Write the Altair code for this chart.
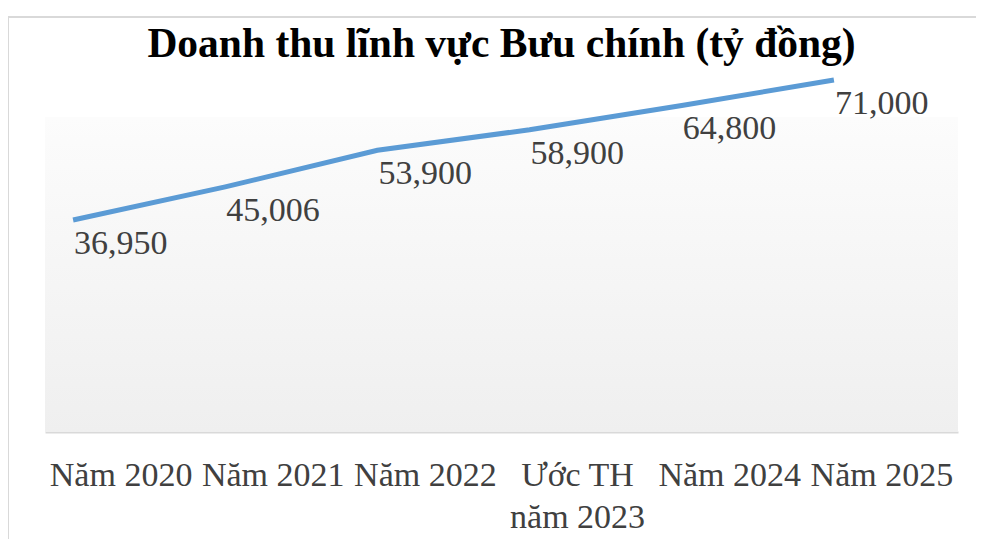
import altair as alt
import pandas as pd

# ---- data ----
categories = ["Năm 2020", "Năm 2021", "Năm 2022", "Ước TH\nnăm 2023", "Năm 2024", "Năm 2025"]
revenue = [36950, 45006, 53900, 58900, 64800, 71000]
title_text = "Doanh thu lĩnh vực Bưu chính (tỷ đồng)"

df = pd.DataFrame({"cat": categories, "value": revenue})

W, H = 913, 315
SERIF = "Liberation Serif"
LINE_SHIFT = -48

x_enc = alt.X(
    "cat:N",
    sort=categories,
    scale=alt.Scale(type="band", paddingInner=0, paddingOuter=0),
    axis=alt.Axis(
        title=None, labelAngle=0, ticks=False, tickSize=0, grid=False,
        domainColor="#d9d9d9", domainWidth=2,
        labelFont=SERIF, labelFontSize=34, labelColor="#404040",
        labelPadding=26, labelLineHeight=42, labelLimit=0,
        labelExpr="split(datum.label, '\\n')",
    ),
)
y_enc = alt.Y("value:Q", scale=alt.Scale(domain=[-14600, 62000], nice=False, zero=False), axis=None)

blank = alt.Data(values=[{"k": 1}])

border = alt.Chart(blank).mark_rect(fill="transparent", stroke="#d9d9d9", strokeWidth=2).encode(
    x=alt.value(-37), x2=alt.value(1200), y=alt.value(-100), y2=alt.value(800)
)

bg = alt.Chart(blank).mark_rect(
    fill=alt.Gradient(
        gradient="linear", x1=0, y1=0, x2=0, y2=1,
        stops=[alt.GradientStop(offset=0, color="#fcfcfc"), alt.GradientStop(offset=1, color="#efefef")],
    )
).encode(x=alt.value(0), x2=alt.value(W), y=alt.value(0), y2=alt.value(H))

base = alt.Chart(df)
line = base.mark_line(color="#5b9bd5", strokeWidth=5, xOffset=LINE_SHIFT, strokeCap="butt").encode(x=x_enc, y=y_enc)
labels = base.mark_text(
    align="left", baseline="alphabetic", dx=LINE_SHIFT + 1, dy=34,
    font=SERIF, fontSize=34, color="#404040",
).encode(x=alt.X("cat:N", sort=categories), y=y_enc, text=alt.Text("value:Q", format=","))

chart = alt.layer(border, bg, line, labels).properties(
    width=W, height=H,
    autosize=alt.AutoSizeParams(type="none"),
    padding={"left": 37, "top": 109, "right": 18, "bottom": 107},
    title=alt.Title(
        title_text, font=SERIF, fontSize=41.5, fontWeight="bold", color="#000000",
        anchor="middle", frame="group", baseline="alphabetic", offset=0, dy=82,
    ),
).configure_view(stroke=None)

chart.save("out.html", embed_options={"renderer": "svg", "actions": False})
